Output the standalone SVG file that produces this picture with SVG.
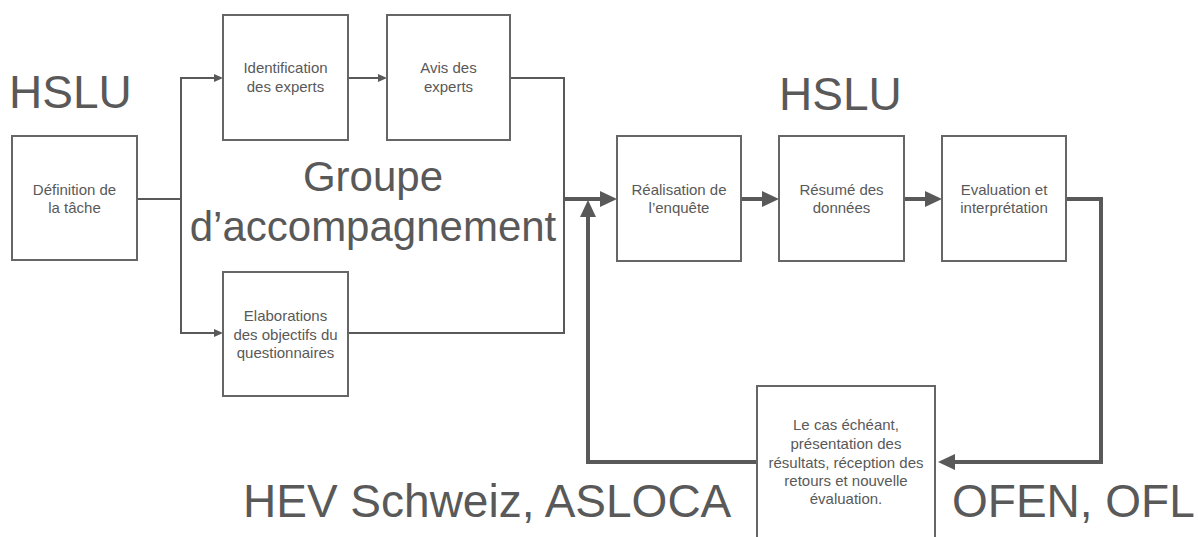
<svg xmlns="http://www.w3.org/2000/svg" width="1198" height="537" viewBox="0 0 1198 537">
<style>
.box{fill:#fff;stroke:#666;stroke-width:2}
.t{font-family:"Liberation Sans",Arial,sans-serif;font-size:15px;fill:#595959;text-anchor:middle}
.big{font-family:"Liberation Sans",Arial,sans-serif;font-size:46px;fill:#595959}
.grp{font-family:"Liberation Sans",Arial,sans-serif;font-size:42px;fill:#595959;text-anchor:middle}
.thin{fill:none;stroke:#595959;stroke-width:2}
.thick{fill:none;stroke:#595959;stroke-width:4}
</style>
<defs>
<marker id="ah" markerUnits="userSpaceOnUse" viewBox="0 0 9 8" refX="5" refY="4" markerWidth="9" markerHeight="8" orient="auto"><path d="M0,0L9,4L0,8z" fill="#595959"/></marker>
<marker id="AH" markerUnits="userSpaceOnUse" viewBox="0 0 17 16" refX="7" refY="8" markerWidth="17" markerHeight="16" orient="auto"><path d="M0,0L17,8L0,16z" fill="#595959"/></marker>
</defs>
<g id="labels">
<text class="big" x="9" y="108">HSLU</text>
<text class="big" x="779" y="110">HSLU</text>
<text class="grp" x="373" y="191">Groupe</text>
<text class="grp" x="373" y="241">d’accompagnement</text>
<text class="big" x="243" y="517">HEV Schweiz, ASLOCA</text>
<text class="big" x="952" y="517">OFEN, OFL</text>
</g>
<g id="connectors">
<path class="thin" d="M137,199H181"/>
<path class="thin" d="M181,333V78H219" marker-end="url(#ah)"/>
<path class="thin" d="M181,199V333H219" marker-end="url(#ah)"/>
<path class="thin" d="M348,78H383" marker-end="url(#ah)"/>
<path class="thin" d="M510,78H564V199"/>
<path class="thin" d="M348,333H564V199"/>
<path class="thick" d="M563,199H607" marker-end="url(#AH)"/>
<path class="thick" d="M741,199H769" marker-end="url(#AH)"/>
<path class="thick" d="M904,199H932" marker-end="url(#AH)"/>
<path class="thick" d="M1066,199H1101V462H948" marker-end="url(#AH)"/>
<path class="thick" d="M757,462H588V210" marker-end="url(#AH)"/>
</g>
<g id="n-definition"><rect class="box" x="12" y="136" width="125" height="124"/><text class="t" x="74.5" y="195">Définition de</text><text class="t" x="74.5" y="213">la tâche</text></g>
<g id="n-identification"><rect class="box" x="223" y="15" width="125" height="125"/><text class="t" x="285.5" y="73">Identification</text><text class="t" x="285.5" y="92">des experts</text></g>
<g id="n-avis"><rect class="box" x="387" y="15" width="123" height="125"/><text class="t" x="448.5" y="73">Avis des</text><text class="t" x="448.5" y="92">experts</text></g>
<g id="n-elaborations"><rect class="box" x="223" y="272" width="125" height="124"/><text class="t" x="285.5" y="321">Elaborations</text><text class="t" x="285.5" y="340">des objectifs du</text><text class="t" x="285.5" y="358">questionnaires</text></g>
<g id="n-realisation"><rect class="box" x="617" y="136" width="124" height="125"/><text class="t" x="679" y="195">Réalisation de</text><text class="t" x="679" y="213">l’enquête</text></g>
<g id="n-resume"><rect class="box" x="779" y="136" width="125" height="125"/><text class="t" x="841.5" y="195">Résumé des</text><text class="t" x="841.5" y="213">données</text></g>
<g id="n-evaluation"><rect class="box" x="942" y="136" width="124" height="125"/><text class="t" x="1004" y="195">Evaluation et</text><text class="t" x="1004" y="213">interprétation</text></g>
<g id="n-feedback"><rect class="box" x="757" y="386" width="178" height="160"/><text class="t" x="846" y="430">Le cas échéant,</text><text class="t" x="846" y="449">présentation des</text><text class="t" x="846" y="468">résultats, réception des</text><text class="t" x="846" y="486">retours et nouvelle</text><text class="t" x="846" y="504">évaluation.</text></g>
</svg>
